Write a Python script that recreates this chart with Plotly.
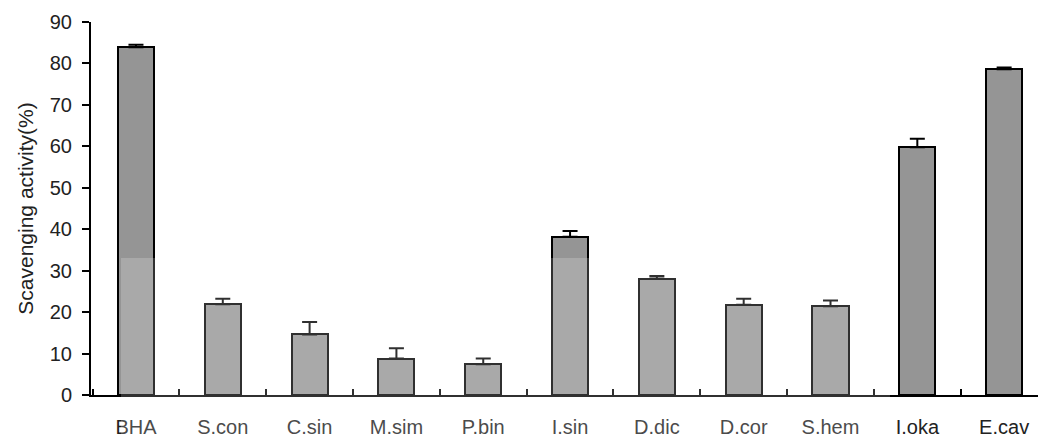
import plotly.graph_objects as go

categories = ["BHA", "S.con", "C.sin", "M.sim", "P.bin", "I.sin", "D.dic", "D.cor", "S.hem", "I.oka", "E.cav"]
values = [83.9, 21.9, 14.6, 8.8, 7.4, 38.2, 28.1, 21.8, 21.4, 59.8, 78.6]
errors = [0.6, 1.3, 3.0, 2.5, 1.4, 1.4, 0.6, 1.4, 1.4, 2.0, 0.4]
y_ticks = [0, 10, 20, 30, 40, 50, 60, 70, 80, 90]

fig = go.Figure()
fig.add_trace(go.Bar(
    x=categories,
    y=values,
    width=0.415,
    marker=dict(color="#959595", line=dict(color="#000000", width=2)),
    error_y=dict(type="data", symmetric=False, array=errors,
                 arrayminus=[0] * len(errors), color="#000000",
                 thickness=2, width=7.5),
    showlegend=False,
))

fig.update_layout(
    width=1038, height=437,
    margin=dict(l=91, r=0, t=22, b=42),
    plot_bgcolor="white", paper_bgcolor="white",
    font=dict(family="Liberation Sans, Arial, sans-serif", color="#222222", size=20),
    bargap=0,
    shapes=[dict(type="rect", xref="paper", yref="paper",
                 x0=(121 - 91) / (1038 - 91), x1=(890 - 91) / (1038 - 91),
                 y0=-0.2, y1=(395 - 258) / (395 - 22),
                 fillcolor="white", opacity=0.19, line=dict(width=0),
                 layer="above")],
)
fig.update_xaxes(
    type="category",
    range=[-0.518, 10.39],
    tickson="boundaries", ticks="inside", ticklen=6, tickwidth=2, tickcolor="#000000",
    showline=True, linecolor="#000000", linewidth=2,
    showgrid=False, zeroline=False,
    ticklabelstandoff=13,
    tickfont=dict(size=20, color="#222222"),
)
fig.update_yaxes(
    range=[0, 90],
    tickmode="array", tickvals=y_ticks,
    ticks="outside", ticklen=7, tickwidth=2, tickcolor="#000000",
    showline=True, linecolor="#000000", linewidth=2,
    showgrid=False, zeroline=False,
    ticklabelstandoff=6,
    tickfont=dict(size=20, color="#222222"),
    title=dict(text="Scavenging activity(%)", font=dict(size=21, color="#222222"), standoff=10),
)

fig.write_html("out.html", config={"displayModeBar": False},
               post_script="document.body.style.margin='0';document.body.style.padding='0';")
